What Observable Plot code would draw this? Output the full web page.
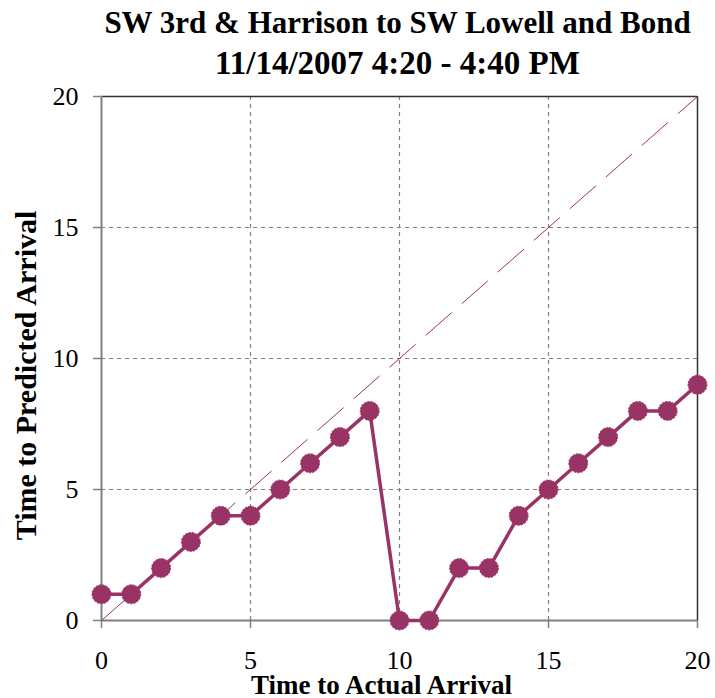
<!DOCTYPE html>
<html>
<head>
<meta charset="utf-8">
<script src="https://cdn.jsdelivr.net/npm/d3@7"></script>
<script src="https://cdn.jsdelivr.net/npm/@observablehq/plot@0.6"></script>
<style>
  body { margin: 0; background: #fff; }
  #title { width: 715px; height: 88px; font-family: "Liberation Serif", "Times New Roman", serif; font-weight: bold; font-size: 31px; color: #000; text-align: center; }
  #title div { height: 40px; line-height: 40px; padding-left: 80px; white-space: nowrap; }
  #title div:first-child { padding-top: 3px; }
  #title div.l2 { height: 45px; font-size: 33px; }
  #chart svg { display: block; }
</style>
</head>
<body>
<div id="title"><div>SW 3rd &amp; Harrison to SW Lowell and Bond</div><div class="l2">11/14/2007 4:20 - 4:40 PM</div></div>
<div id="chart"></div>
<script>
const actual = [0,1,2,3,4,5,6,7,8,9,10,11,12,13,14,15,16,17,18,19,20];
const predicted = [1,1,2,3,4,4,5,6,7,8,0,0,2,2,4,5,6,7,8,8,9];
const diagX = [0, 20];
const diagY = [0, 20];
const ticks = [0, 5, 10, 15, 20];
const gridTicks = [5, 10, 15];
const xLabel = "Time to Actual Arrival";
const yLabel = "Time to Predicted Arrival";

const data = actual.map((x, i) => ({x, y: predicted[i]}));
const diag = diagX.map((x, i) => ({x, y: diagY[i]}));
const color = "#993366";

const plot = Plot.plot({
  width: 715,
  height: 610,
  marginLeft: 101,
  marginRight: 18,
  marginTop: 8,
  marginBottom: 78,
  style: { fontFamily: "'Liberation Serif', 'Times New Roman', serif", fontSize: "26px", color: "#000", background: "#fff", overflow: "visible" },
  x: { domain: [0, 20] },
  y: { domain: [0, 20] },
  marks: [
    Plot.ruleX(gridTicks, { stroke: "#808080", strokeWidth: 1.2, strokeDasharray: "4,4", strokeOpacity: 1 }),
    Plot.ruleY(gridTicks, { stroke: "#808080", strokeWidth: 1.2, strokeDasharray: "4,4", strokeOpacity: 1 }),
    Plot.ruleY([20], { stroke: "#333", strokeWidth: 1.5 }),
    Plot.ruleX([20], { stroke: "#333", strokeWidth: 1.5 }),
    Plot.ruleX([0], { stroke: "#808080", strokeWidth: 2 }),
    Plot.ruleY([0], { stroke: "#808080", strokeWidth: 2 }),
    Plot.axisX(ticks, { tickSize: 8, tickPadding: 22, stroke: "#808080", strokeWidth: 1.5, label: null, fontSize: 26 }),
    Plot.axisY(ticks, { tickSize: 8, tickPadding: 15, stroke: "#808080", strokeWidth: 1.5, label: null, fontSize: 26 }),
    Plot.line(diag, { x: "x", y: "y", stroke: color, strokeWidth: 1, strokeDasharray: "34,14" }),
    Plot.line(data, { x: "x", y: "y", stroke: color, strokeWidth: 3.5 }),
    Plot.dot(data, { x: "x", y: "y", r: 9.5, fill: color, stroke: color, strokeWidth: 1, strokeDasharray: "2,1.5" }),
    Plot.text([xLabel], { frameAnchor: "bottom", textAnchor: "middle", lineAnchor: "bottom", dy: 73, dx: -18, fontWeight: "bold", fontSize: 27, fill: "#000" }),
    Plot.text([yLabel], { frameAnchor: "left", textAnchor: "middle", lineAnchor: "middle", dx: -75, dy: 17, rotate: -90, fontWeight: "bold", fontSize: 30, fill: "#000" })
  ]
});
document.getElementById("chart").appendChild(plot);
</script>
</body>
</html>
